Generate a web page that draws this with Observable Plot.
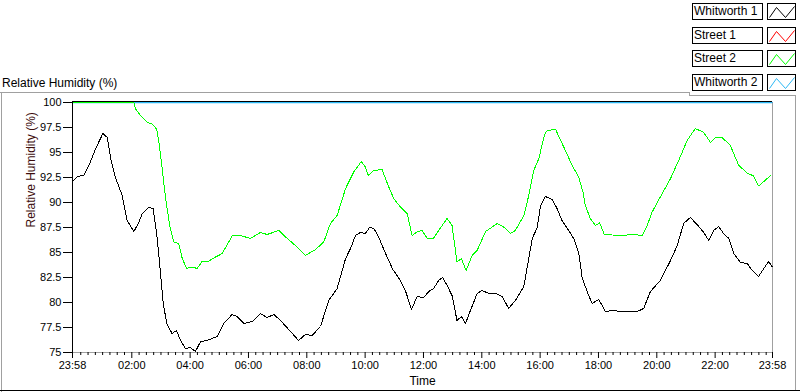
<!DOCTYPE html>
<html><head><meta charset="utf-8">
<script src="https://cdn.jsdelivr.net/npm/d3@7"></script>
<script src="https://cdn.jsdelivr.net/npm/@observablehq/plot@0.6"></script>
<style>
body{margin:0;background:#fff;font-family:"Liberation Sans",Arial,sans-serif;color:#000;}
#wrap{position:relative;width:800px;height:392px;overflow:hidden;background:#fff;}
#wrap svg.chart{position:absolute;left:0;top:92px;}
.ln{position:absolute;background:#a0a0a0;}
.title{position:absolute;left:2px;top:76px;font-size:12px;line-height:14px;white-space:nowrap;}
.lname{position:absolute;left:692px;width:71px;height:17px;box-sizing:border-box;border:1px solid #000;background:#fff;font-size:12px;line-height:15px;padding-left:1px;white-space:nowrap;}
.lsw{position:absolute;left:767px;width:29px;height:17px;box-sizing:border-box;border:1px solid #000;background:#fff;}
.lsw svg{position:absolute;left:-1px;top:-1px;}
</style></head><body><div id="wrap"></div>
<script>
// ---- data ----
const seriesNames = ["Whitworth 1", "Street 1", "Street 2", "Whitworth 2"];
const seriesColors = ["#000000", "#ff0000", "#00ff00", "#2ab8f5"];

const xStart = -2 / 60;          // 23:58 (previous day)
const xEnd = 24 - 2 / 60;        // 23:58
const xTickHours = [xStart, 2, 4, 6, 8, 10, 12, 14, 16, 18, 20, 22, xEnd];
const xTickLabels = ["23:58", "02:00", "04:00", "06:00", "08:00", "10:00", "12:00", "14:00", "16:00", "18:00", "20:00", "22:00", "23:58"];
const yTicks = [75, 77.5, 80, 82.5, 85, 87.5, 90, 92.5, 95, 97.5, 100];

// Whitworth 1 (hours since midnight, %RH)
const whitworth1Hours = [-0.03,0.13,0.35,0.53,0.76,1.01,1.16,1.27,1.44,1.67,1.84,2.07,2.24,2.36,2.58,2.73,2.85,2.96,3.08,3.21,3.38,3.53,3.67,3.84,4.01,4.18,4.36,4.58,4.93,5.15,5.44,5.61,5.84,6.13,6.41,6.64,6.87,7.10,7.44,7.72,7.95,8.18,8.47,8.75,9.04,9.33,9.50,9.67,9.84,10.01,10.15,10.30,10.47,10.70,10.95,11.21,11.38,11.59,11.78,12.01,12.18,12.35,12.52,12.66,12.81,12.98,13.15,13.30,13.44,13.61,13.84,14.01,14.24,14.47,14.70,14.92,15.15,15.44,15.73,15.90,16.01,16.18,16.41,16.58,16.75,16.98,17.15,17.32,17.44,17.61,17.78,18.01,18.24,18.52,18.75,18.98,19.33,19.55,19.78,20.12,20.47,20.70,20.92,21.15,21.38,21.61,21.78,21.95,22.12,22.29,22.47,22.64,22.87,23.10,23.27,23.49,23.69,23.84,23.95];
const whitworth1Values = [92.1,92.6,92.7,93.7,95.4,96.9,96.5,94.5,92.5,90.7,88.2,87.1,88.0,88.9,89.5,89.4,87.0,83.7,79.8,77.8,76.9,77.2,76.2,75.4,75.5,75.1,76.1,76.2,76.6,77.9,78.8,78.6,77.9,78.1,78.9,78.5,78.8,78.2,77.1,76.2,76.8,76.7,77.6,80.2,81.4,84.4,85.4,86.7,87.0,86.9,87.5,87.4,86.5,84.9,83.3,82.2,81.2,79.3,80.6,80.5,81.1,81.4,82.2,82.5,81.7,80.7,78.2,78.6,77.9,79.2,80.9,81.2,80.9,80.9,80.6,79.4,80.2,81.6,86.4,87.5,89.6,90.6,90.3,89.4,88.2,87.2,86.4,85.0,82.5,81.1,79.9,80.3,79.1,79.2,79.1,79.1,79.1,79.4,81.1,82.2,84.2,85.7,87.9,88.5,87.8,87.0,86.2,87.2,87.6,86.9,86.4,84.9,84.0,83.9,83.2,82.6,83.5,84.1,83.6];

// Street 1 (hidden under Whitworth 2 at 100 %)
const street1Hours = [-0.03, 23.95];
const street1Values = [100, 100];

// Street 2
const street2Hours = [-0.03,2.07,2.13,2.30,2.53,2.70,2.85,2.93,3.04,3.16,3.30,3.44,3.61,3.73,3.88,4.07,4.24,4.41,4.58,4.81,5.10,5.44,5.73,6.07,6.41,6.64,7.04,7.33,7.67,7.95,8.30,8.58,8.81,9.04,9.33,9.61,9.87,10.01,10.10,10.30,10.58,10.81,10.98,11.21,11.44,11.61,11.78,11.95,12.13,12.35,12.58,12.81,12.98,13.15,13.30,13.46,13.67,13.84,14.13,14.53,14.75,14.98,15.15,15.44,15.61,15.78,15.95,16.16,16.24,16.53,16.81,17.10,17.32,17.47,17.55,17.72,17.90,18.04,18.20,18.75,19.21,19.50,19.67,19.84,20.12,20.47,20.75,21.04,21.32,21.61,21.84,22.01,22.24,22.52,22.81,23.10,23.32,23.49,23.67,23.90];
const street2Values = [100,100,99.35,98.7,98.0,97.85,97.35,96.0,93.4,90.4,87.7,86.05,85.9,84.4,83.4,83.55,83.4,84.1,84.05,84.45,84.9,86.65,86.7,86.4,87.0,86.8,87.2,86.4,85.55,84.7,85.3,86.05,87.9,88.7,91.4,93.05,94.1,93.55,92.7,93.2,93.3,91.55,90.4,89.55,88.9,86.7,87.05,87.2,86.4,86.45,87.45,88.4,87.7,84.05,84.4,83.2,84.7,85.2,87.1,87.9,87.55,86.9,87.2,88.7,90.7,93.2,94.35,96.85,97.2,97.3,95.55,93.7,92.55,91.05,89.7,88.4,87.7,87.95,86.8,86.7,86.8,86.7,87.7,89.05,90.55,92.4,94.2,96.2,97.4,97.0,96.0,96.5,96.5,95.7,93.7,92.95,92.65,91.65,92.1,92.7];

// Whitworth 2
const whitworth2Hours = [-0.03, 23.95];
const whitworth2Values = [100, 100];

// ---- build ----
const toRows = (hs, vs) => hs.map((h, i) => ({h, v: vs[i]}));
const w1 = toRows(whitworth1Hours, whitworth1Values);
const s1 = toRows(street1Hours, street1Values);
const s2 = toRows(street2Hours, street2Values);
const w2 = toRows(whitworth2Hours, whitworth2Values);

const minorTicks = d3.range(1, 96).map(i => i * 0.25).filter(h => h % 2 !== 0);
const fmtX = d => { const i = xTickHours.indexOf(d); return i >= 0 ? xTickLabels[i] : ""; };

const chart = Plot.plot({
  width: 800, height: 300,
  marginLeft: 72, marginRight: 28, marginTop: 10, marginBottom: 40,
  style: {fontFamily: "'Liberation Sans', Arial, sans-serif", fontSize: "11px", color: "#000", background: "none", overflow: "visible"},
  x: {domain: [xStart, xEnd]},
  y: {domain: [75, 100]},
  marks: [
    Plot.frame({stroke: "#a0a0a0"}),
    Plot.axisY({ticks: yTicks, tickSize: 9, tickPadding: 2, tickFormat: d => String(d), label: null, stroke: "#000"}),
    Plot.axisX({ticks: minorTicks, tickSize: 3, tickFormat: () => "", label: null, stroke: "#000"}),
    Plot.axisX({ticks: xTickHours, tickSize: 6, tickPadding: 3, tickFormat: fmtX, label: null, stroke: "#000"}),
    Plot.line(s1, {x: "h", y: "v", stroke: seriesColors[1], strokeWidth: 1}),
    Plot.line(w2, {x: "h", y: "v", stroke: seriesColors[3], strokeWidth: 1.5}),
    Plot.line(s2, {x: "h", y: "v", stroke: seriesColors[2], strokeWidth: 1, shapeRendering: "crispEdges"}),
    Plot.line(w1, {x: "h", y: "v", stroke: seriesColors[0], strokeWidth: 1, shapeRendering: "crispEdges"}),
    Plot.ruleX([xStart], {stroke: "#000"}),
    Plot.ruleY([100], {stroke: "#000", dy: -1}),
    Plot.text(["Relative Humidity (%)"], {frameAnchor: "left", dx: -41, rotate: -90, fontSize: 12, fill: "#3c0c0c"}),
    Plot.text(["Time"], {frameAnchor: "bottom", dy: 32, fontSize: 12, fill: "#000"})
  ]
});
chart.classList.add("chart");

const wrap = document.getElementById("wrap");
wrap.appendChild(chart);

function addDiv(cls, css, html) {
  const d = document.createElement("div");
  d.className = cls;
  Object.assign(d.style, css);
  if (html != null) d.innerHTML = html;
  wrap.appendChild(d);
  return d;
}
// outer frame
addDiv("ln", {left: "0px", top: "92px", width: "690px", height: "1px"});
addDiv("ln", {left: "689px", top: "92px", width: "1px", height: "4px"});
addDiv("ln", {left: "689px", top: "95px", width: "107px", height: "1px"});
addDiv("ln", {left: "1px", top: "92px", width: "1px", height: "300px"});
addDiv("ln", {left: "795px", top: "95px", width: "1px", height: "296px"});
addDiv("ln", {left: "0px", top: "390px", width: "800px", height: "1px", background: "#000"});

// title
const t = addDiv("title", {});
t.textContent = "Relative Humidity (%)";

// legend
const rowTops = [3, 27, 50, 74];
seriesNames.forEach((name, i) => {
  const n = addDiv("lname", {top: rowTops[i] + "px"});
  n.textContent = name;
  addDiv("lsw", {top: rowTops[i] + "px"},
    `<svg width="29" height="17"><polyline points="2.5,14.5 9.5,4.5 18.5,14.5 27.5,3.5" fill="none" stroke="${seriesColors[i]}" stroke-width="1"/></svg>`);
});
</script>
</body></html>
